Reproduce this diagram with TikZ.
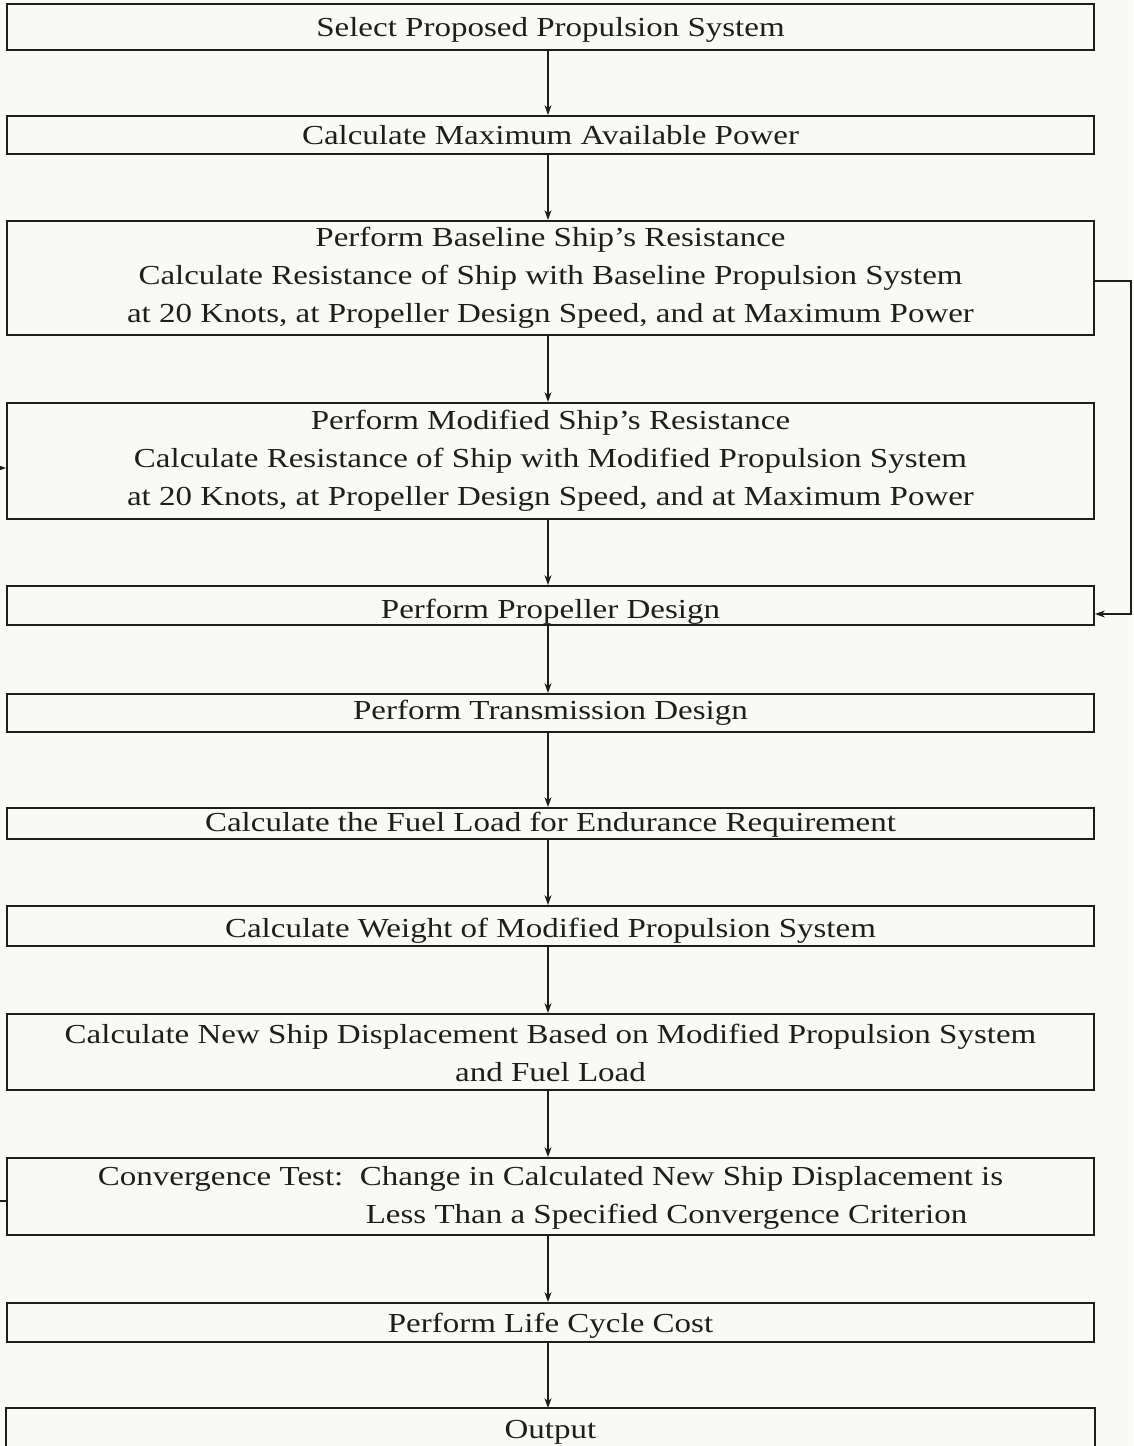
\documentclass[tikz,border=0pt]{standalone}
\usepackage{fontspec}
\setmainfont{Liberation Serif}[FakeStretch=1.2]
\usetikzlibrary{arrows.meta}
\definecolor{paper}{RGB}{249,249,245}
\definecolor{ink}{RGB}{30,30,30}
\newcommand\lowr[2]{\raisebox{-#1}[\height][\depth]{#2}}
\tikzset{
  box/.style={draw=ink, line width=1.8pt, minimum width=1087pt, inner sep=0pt,
    font=\fontsize{27.5}{38}\selectfont, align=center, text=ink},
  arr/.style={draw=ink, line width=1.3pt, -{Stealth[length=10pt,width=7pt]}},
}
\begin{document}
\begin{tikzpicture}[x=1pt,y=-1pt]
\fill[paper] (0,0) rectangle (1133,1446);
\useasboundingbox (0,0) rectangle (1133,1446);

\node[box, minimum height=46pt] (b1) at (550.5,27) {\lowr{3pt}{Select Proposed Propulsion System}};
\node[box, minimum height=38pt] (b2) at (550.5,135) {Calculate Maximum Available Power};
\node[box, minimum height=114pt] (b3) at (550.5,278) {Perform Baseline Ship’s Resistance\\Calculate Resistance of Ship with Baseline Propulsion System\\at 20 Knots, at Propeller Design Speed, and at Maximum Power};
\node[box, minimum height=116pt] (b4) at (550.5,461) {Perform Modified Ship’s Resistance\\Calculate Resistance of Ship with Modified Propulsion System\\at 20 Knots, at Propeller Design Speed, and at Maximum Power};
\node[box, minimum height=39pt] (b5) at (550.5,605.5) {\lowr{6pt}{Perform Propeller Design}};
\node[box, minimum height=38pt] (b6) at (550.5,713) {Perform Transmission Design};
\node[box, minimum height=31pt] (b7) at (550.5,823.5) {\lowr{1pt}{Calculate the Fuel Load for Endurance Requirement}};
\node[box, minimum height=40pt] (b8) at (550.5,926) {\lowr{5pt}{Calculate Weight of Modified Propulsion System}};
\node[box, minimum height=76pt] (b9) at (550.5,1052) {\lowr{3pt}{\begin{tabular}{@{}c@{}}Calculate New Ship Displacement Based on Modified Propulsion System\\and Fuel Load\end{tabular}}};
\node[box, minimum height=77pt] (b10) at (550.5,1196.5) {\begin{tabular}{@{}l@{}}Convergence Test:\ \ Change in Calculated New Ship Displacement is\\\hphantom{Convergence Test:\ \ }\hspace*{6pt}Less Than a Specified Convergence Criterion\end{tabular}};
\node[box, minimum height=39pt] (b11) at (550.5,1322.5) {\lowr{3pt}{Perform Life Cycle Cost}};
\node[box, draw=none, minimum height=46pt] (b12) at (550.5,1432) {Output};
\coordinate (bot) at (0,1446);
\draw[ink, line width=1.8pt] (b12.north west |- bot) -- (b12.north west) -- (b12.north east) -- (b12.north east |- bot);

\foreach \a/\b in {b1/b2,b2/b3,b4/b5,b5/b6,b6/b7,b7/b8,b8/b9,b9/b10,b10/b11,b11/b12}
  \draw[arr] ([xshift=-2.5pt]\a.south) -- ([xshift=-2.5pt]\b.north);
\draw[arr] ([xshift=-2.5pt]b3.south) -- ([xshift=-2.5pt]b4.north);

\coordinate (L1) at (-3,1201);
\coordinate (L2) at (-3,468);
\draw[arr] (b10.west |- L1) -- (L1) -- (L2) -- (b4.west |- L2);

\coordinate (R1) at (1131,281);
\coordinate (R2) at (1131,614);
\draw[arr] (b3.east |- R1) -- (R1) -- (R2) -- (b5.east |- R2);
\end{tikzpicture}
\end{document}
